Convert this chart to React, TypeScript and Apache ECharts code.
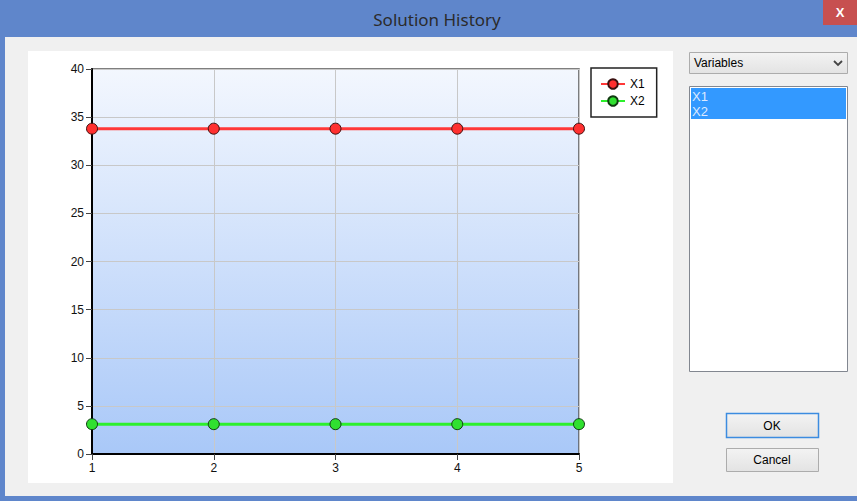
import React, { useEffect, useRef } from "react";
import * as echarts from "echarts";

const iterations = ["1", "2", "3", "4", "5"];
const x1Values = [33.8, 33.8, 33.8, 33.8, 33.8];
const x2Values = [3.1, 3.1, 3.1, 3.1, 3.1];
const seriesNames = ["X1", "X2"];
const listItems = ["X1", "X2"];

const FONT = "'Liberation Sans', Arial, sans-serif";
const UI_FONT = "'Noto Sans', 'Open Sans', sans-serif";

export default function App() {
  const ref = useRef<HTMLDivElement>(null);
  useEffect(() => {
    if (!ref.current) return;
    const chart = echarts.init(ref.current, undefined, { renderer: "svg" });
    const btnFill = new echarts.graphic.LinearGradient(0, 0, 0, 1, [
      { offset: 0, color: "#f3f3f3" },
      { offset: 1, color: "#e3e3e3" },
    ]);
    chart.setOption({
      animation: false,
      backgroundColor: "#5f86cb",
      grid: {
        left: 92,
        top: 69,
        right: 278,
        bottom: 47,
        show: true,
        borderColor: "#555",
        borderWidth: 1.5,
        backgroundColor: new echarts.graphic.LinearGradient(0, 0, 0, 1, [
          { offset: 0, color: "#f3f7fe" },
          { offset: 1, color: "#a9c8f8" },
        ]),
      },
      legend: {
        data: seriesNames,
        orient: "vertical",
        left: 591,
        top: 68,
        padding: [10, 12, 10, 9],
        itemWidth: 24,
        itemHeight: 12,
        itemGap: 5,
        borderColor: "#222",
        borderWidth: 1.5,
        backgroundColor: "#fff",
        textStyle: { fontFamily: FONT, fontSize: 12, color: "#000" },
      },
      xAxis: {
        type: "category",
        data: iterations,
        boundaryGap: false,
        z: 1,
        axisLine: { show: true, lineStyle: { color: "#000", width: 2 } },
        axisTick: { show: true, length: 6, lineStyle: { color: "#444", width: 1 } },
        axisLabel: { fontFamily: FONT, fontSize: 12, color: "#111", margin: 8 },
        splitLine: { show: true, lineStyle: { color: "#c8c8c8", width: 1 } },
      },
      yAxis: {
        type: "value",
        min: 0,
        max: 40,
        interval: 5,
        z: 1,
        axisLine: { show: true, lineStyle: { color: "#000", width: 2 } },
        axisTick: { show: true, length: 6, lineStyle: { color: "#444", width: 1 } },
        axisLabel: { fontFamily: FONT, fontSize: 12, color: "#111", margin: 8 },
        splitLine: { show: true, lineStyle: { color: "#c8c8c8", width: 1 } },
      },
      series: [
        {
          name: seriesNames[0],
          type: "line",
          data: x1Values,
          symbol: "circle",
          symbolSize: 11,
          lineStyle: { color: "#ff3838", width: 3 },
          itemStyle: { color: "#ff3030", borderColor: "#3a1010", borderWidth: 1 },
          z: 3,
        },
        {
          name: seriesNames[1],
          type: "line",
          data: x2Values,
          symbol: "circle",
          symbolSize: 11,
          lineStyle: { color: "#2cf02c", width: 3 },
          itemStyle: { color: "#30e030", borderColor: "#103a10", borderWidth: 1 },
          z: 3,
        },
      ],
      graphic: [
        { type: "rect", z: -10, shape: { x: 5, y: 37, width: 852, height: 459 }, style: { fill: "#f0f0f0" } },
        { type: "rect", z: -9, shape: { x: 28, y: 51, width: 645, height: 432 }, style: { fill: "#ffffff" } },
        {
          type: "text",
          x: 437,
          y: 19,
          style: { text: "Solution History", fill: "#2b2b2b", font: `17px ${UI_FONT}`, align: "center", verticalAlign: "middle" },
        },
        { type: "rect", shape: { x: 823, y: 0, width: 34, height: 25 }, style: { fill: "#c75050" } },
        {
          type: "text",
          x: 840,
          y: 12.5,
          style: { text: "X", fill: "#ffffff", font: `bold 13px ${FONT}`, align: "center", verticalAlign: "middle" },
        },
        // combobox
        { type: "rect", shape: { x: 689.5, y: 52.5, width: 158, height: 21 }, style: { fill: btnFill, stroke: "#acacac", lineWidth: 1 } },
        {
          type: "text",
          x: 694,
          y: 63,
          style: { text: "Variables", fill: "#000", font: `12px ${FONT}`, align: "left", verticalAlign: "middle" },
        },
        {
          type: "polyline",
          shape: { points: [[834, 61], [838, 65], [842, 61]] },
          style: { stroke: "#444", lineWidth: 1.8, fill: "none" },
        },
        // listbox
        { type: "rect", shape: { x: 689.5, y: 86.5, width: 158, height: 285 }, style: { fill: "#ffffff", stroke: "#828790", lineWidth: 1 } },
        { type: "rect", shape: { x: 691, y: 88, width: 155, height: 31 }, style: { fill: "#3399ff" } },
        {
          type: "text",
          x: 692,
          y: 96,
          style: { text: listItems[0], fill: "#dce9ff", font: `13px ${FONT}`, align: "left", verticalAlign: "middle" },
        },
        {
          type: "text",
          x: 692,
          y: 111,
          style: { text: listItems[1], fill: "#dce9ff", font: `13px ${FONT}`, align: "left", verticalAlign: "middle" },
        },
        // buttons
        { type: "rect", shape: { x: 726.5, y: 413.5, width: 92, height: 24 }, style: { fill: btnFill, stroke: "#3c8ce0", lineWidth: 1.5 } },
        {
          type: "text",
          x: 772,
          y: 426,
          style: { text: "OK", fill: "#000", font: `12px ${FONT}`, align: "center", verticalAlign: "middle" },
        },
        { type: "rect", shape: { x: 726.5, y: 448.5, width: 92, height: 23 }, style: { fill: btnFill, stroke: "#acacac", lineWidth: 1 } },
        {
          type: "text",
          x: 772,
          y: 460,
          style: { text: "Cancel", fill: "#000", font: `12px ${FONT}`, align: "center", verticalAlign: "middle" },
        },
      ],
    });
    return () => chart.dispose();
  }, []);
  return (
    <div
      ref={ref}
      style={{ position: "fixed", left: 0, top: 0, width: 857, height: 501 }}
    />
  );
}
